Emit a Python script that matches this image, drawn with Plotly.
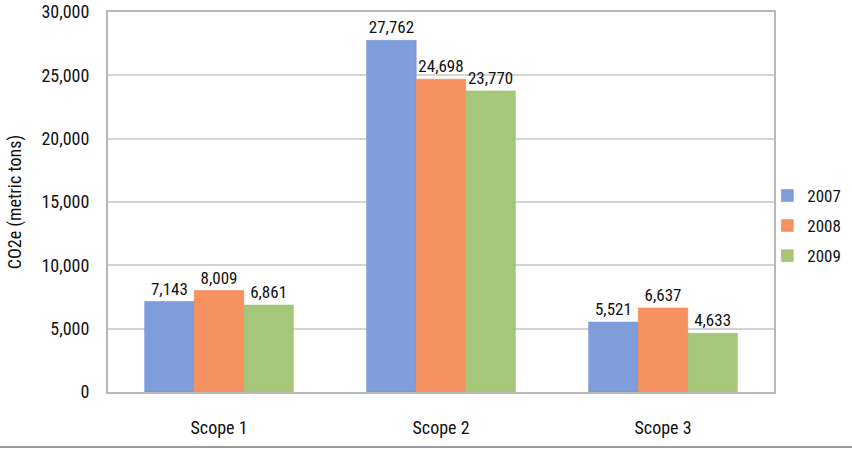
import plotly.graph_objects as go

scopes = ["Scope 1", "Scope 2", "Scope 3"]
years = ["2007", "2008", "2009"]
values_2007 = [7143, 27762, 5521]
values_2008 = [8009, 24698, 6637]
values_2009 = [6861, 23770, 4633]
y_ticks = [0, 5000, 10000, 15000, 20000, 25000, 30000]

colors = ["#7f9cdb", "#f6925f", "#a6c77a"]
edge_colors = ["#6f8dd0", "#f0824d", "#94ba62"]
font_family = "Liberation Sans Narrow, Roboto Condensed, Arial Narrow, Roboto, sans-serif"

fig = go.Figure()
for year, vals, c, ec in zip(years, [values_2007, values_2008, values_2009], colors, edge_colors):
    fig.add_trace(go.Bar(
        x=scopes, y=vals, name=year, legendgroup=year,
        marker=dict(color=c, line=dict(color=ec, width=0.5)),
        text=[f"{v:,}" for v in vals], textposition="outside",
        textfont=dict(size=17, color="#111"),
        cliponaxis=False,
    ))

fig.update_layout(
    width=852, height=449,
    margin=dict(l=108, r=78, t=12, b=57, autoexpand=False),
    paper_bgcolor="white", plot_bgcolor="white",
    font=dict(family=font_family, size=17, color="#111"),
    barmode="group", bargap=0.33, bargroupgap=0,
    showlegend=True,
    legend=dict(x=0.99, y=0.437, yanchor="middle", xanchor="left",
                bgcolor="rgba(0,0,0,0)",
                font=dict(size=17), itemwidth=30, tracegroupgap=5),
    shapes=[dict(type="line", xref="paper", yref="paper",
                 x0=-0.163, x1=1.118, y0=-0.145, y1=-0.145,
                 line=dict(color="#999", width=2))],
)
fig.update_xaxes(showline=True, linecolor="#b8b8b8", linewidth=2, mirror=True,
                 ticks="", ticklabelstandoff=18, tickfont=dict(size=18), automargin=False)
fig.update_yaxes(range=[0, 30000], tickvals=y_ticks, tickformat=",",
                 showgrid=True, gridcolor="#d4d4d4", gridwidth=1.5,
                 showline=True, linecolor="#b8b8b8", linewidth=2, mirror=True,
                 ticks="", ticklabelstandoff=13, tickfont=dict(size=18), automargin=False,
                 title=dict(text="CO2e (metric tons)", font=dict(size=18), standoff=15),
                 zeroline=False)

# the page body has a default 8px margin; drop it so the figure sits at 0,0
fig.write_html("out.html", config={"displayModeBar": False},
               post_script="document.body.style.margin='0';")
